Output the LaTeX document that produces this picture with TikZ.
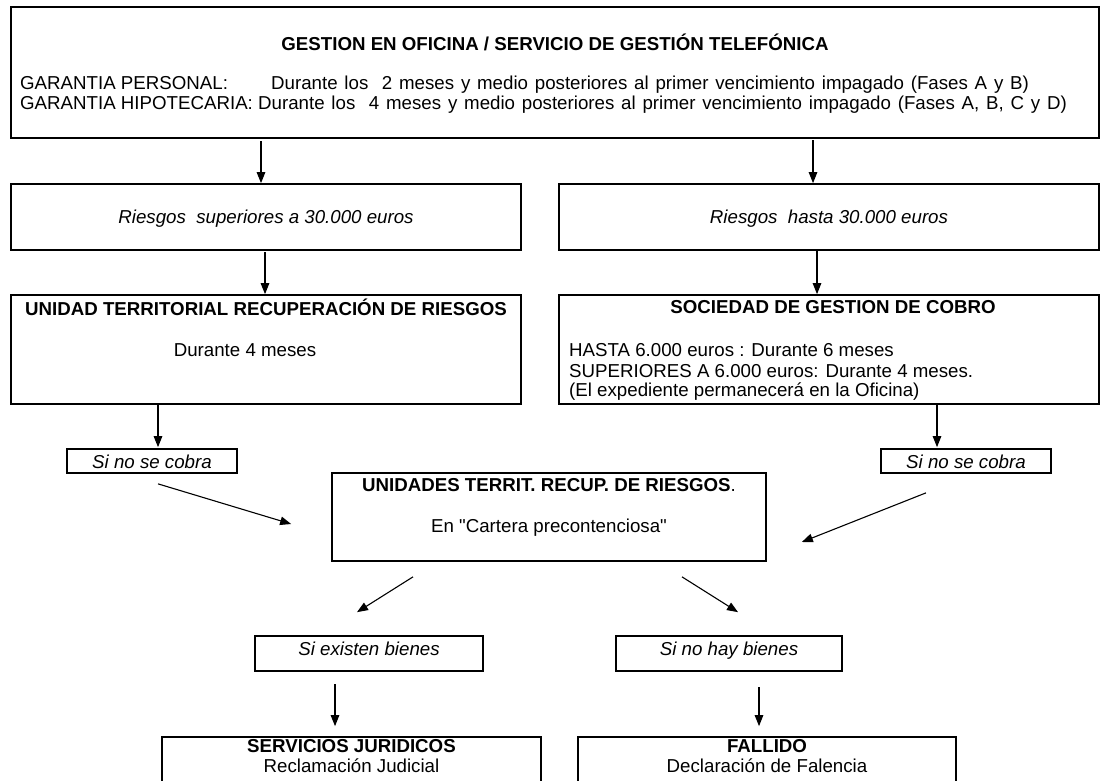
\documentclass[tikz,border=0pt]{standalone}
\usepackage{fontspec}
\usepackage{calc}
\setmainfont{Liberation Sans}[Ligatures=TeXOff]
\usetikzlibrary{arrows.meta}
\begin{document}
\begin{tikzpicture}[x=1pt,y=-1pt,
  font=\fontsize{18.7}{21}\selectfont,
  box/.style={draw, line width=1.7pt, inner sep=0pt, anchor=center, text height=17.4pt, text depth=4pt},
  itbox/.style={box, font=\fontsize{18.7}{21}\selectfont\itshape},
  txt/.style={inner sep=0pt, anchor=center},
  ltxt/.style={inner sep=0pt, anchor=west},
  arr/.style={line width=1.1pt, -{Triangle[length=11pt,width=8.5pt]}}]
\useasboundingbox (0,0) rectangle (1102,780);
\clip (0,0) rectangle (1102,780);
% boxes
\node[box, minimum width=1088, minimum height=131] (top) at (555,72.5) {};
\node[itbox, minimum width=510, minimum height=66] (RL) at (266,217) {Riesgos\ \ superiores a 30.000 euros};
\node[itbox, minimum width=540, minimum height=66] (RR) at (829,217) {Riesgos\ \ hasta 30.000 euros};
\node[box, minimum width=510, minimum height=109] (UTRR) at (266,349.5) {};
\node[box, minimum width=540, minimum height=109] (SGC) at (829,349.5) {};
\node[itbox, minimum width=170, minimum height=24, text height=19.4pt] (SinL) at (152,461) {Si no se cobra};
\node[itbox, minimum width=170, minimum height=24, text height=19.4pt] (SinR) at (966,461) {Si no se cobra};
\node[box, minimum width=434, minimum height=88] (UNID) at (549,517) {};
\node[itbox, minimum width=228, minimum height=35, text height=8pt] (SiEx) at (369,653.5) {Si existen bienes};
\node[itbox, minimum width=226, minimum height=35, text height=8pt] (SiNo) at (729,653.5) {Si no hay bienes};
\node[box, minimum width=379, minimum height=63] (SERV) at (351.5,768.5) {};
\node[box, minimum width=378, minimum height=63] (FALL) at (767,768.5) {};
% texts
\node[txt] (t0) at (555,42) {\textbf{GESTION EN OFICINA / SERVICIO DE GESTIÓN TELEFÓNICA}};
\node[ltxt] (t1) at (20,85) {\makebox[\widthof{GARANTIA HIPOTECARIA: }+13pt][l]{GARANTIA PERSONAL:}{\spaceskip=6.8pt Durante los\hspace{6.8pt}\hspace{6.8pt}2 meses y medio posteriores al primer vencimiento impagado (Fases A y B)}};
\node[ltxt] (t2) at (20,105) {GARANTIA HIPOTECARIA: {\spaceskip=6.8pt Durante los\hspace{6.8pt}\hspace{6.8pt}4 meses y medio posteriores al primer vencimiento impagado (Fases A, B, C y D)}};
\node[txt] (u1) at (266,307) {\textbf{UNIDAD TERRITORIAL RECUPERACIÓN DE RIESGOS}};
\node[txt] (u2) at (245,350) {Durante 4 meses};
\node[txt] (s1) at (833,307) {\textbf{SOCIEDAD DE GESTION DE COBRO}};
\node[ltxt] (s2) at (569,350) {HASTA 6.000 euros : Durante 6 meses};
\node[ltxt] (s3) at (569,371) {SUPERIORES A 6.000 euros: Durante 4 meses.};
\node[ltxt] (s4) at (569,392) {(El expediente permanecerá en la Oficina)};
\node[txt] (n1) at (549,485) {\textbf{UNIDADES TERRIT. RECUP. DE RIESGOS}.};
\node[txt] (n2) at (549,528) {En "Cartera precontenciosa"};
\node[txt] (j1) at (351.5,746) {\textbf{SERVICIOS JURIDICOS}};
\node[txt] (j2) at (351.5,766) {Reclamación Judicial};
\node[txt] (f1) at (767,746) {\textbf{FALLIDO}};
\node[txt] (f2) at (767,766) {Declaración de Falencia};
% arrows
\draw[arr] ([xshift=-5pt,yshift=42pt]RL.north) -- ([xshift=-5pt]RL.north);
\draw[arr] ([xshift=-16pt,yshift=43pt]RR.north) -- ([xshift=-16pt]RR.north);
\draw[arr] ([xshift=-1pt,yshift=42pt]UTRR.north) -- ([xshift=-1pt]UTRR.north);
\draw[arr] ([xshift=-12pt,yshift=43pt]SGC.north) -- ([xshift=-12pt]SGC.north);
\draw[arr] ([xshift=6pt,yshift=45pt]SinL.north) -- ([xshift=6pt,yshift=1pt]SinL.north);
\draw[arr] ([xshift=-29pt,yshift=45pt]SinR.north) -- ([xshift=-29pt,yshift=1pt]SinR.north);
\draw[arr] ([xshift=6pt,yshift=-10pt]SinL.south) -- ([xshift=-40pt,yshift=-7pt]UNID.west);
\draw[arr] ([xshift=-40pt,yshift=-19pt]SinR.south) -- ([xshift=35pt,yshift=-25pt]UNID.east);
\draw[arr] ([xshift=-136pt,yshift=-15pt]UNID.south) -- ([xshift=-12pt,yshift=23pt]SiEx.north);
\draw[arr] ([xshift=133pt,yshift=-15pt]UNID.south) -- ([xshift=9pt,yshift=23pt]SiNo.north);
\draw[arr] ([xshift=-16.5pt,yshift=52pt]SERV.north) -- ([xshift=-16.5pt,yshift=10pt]SERV.north);
\draw[arr] ([xshift=-8pt,yshift=49pt]FALL.north) -- ([xshift=-8pt,yshift=10pt]FALL.north);
\end{tikzpicture}
\end{document}
